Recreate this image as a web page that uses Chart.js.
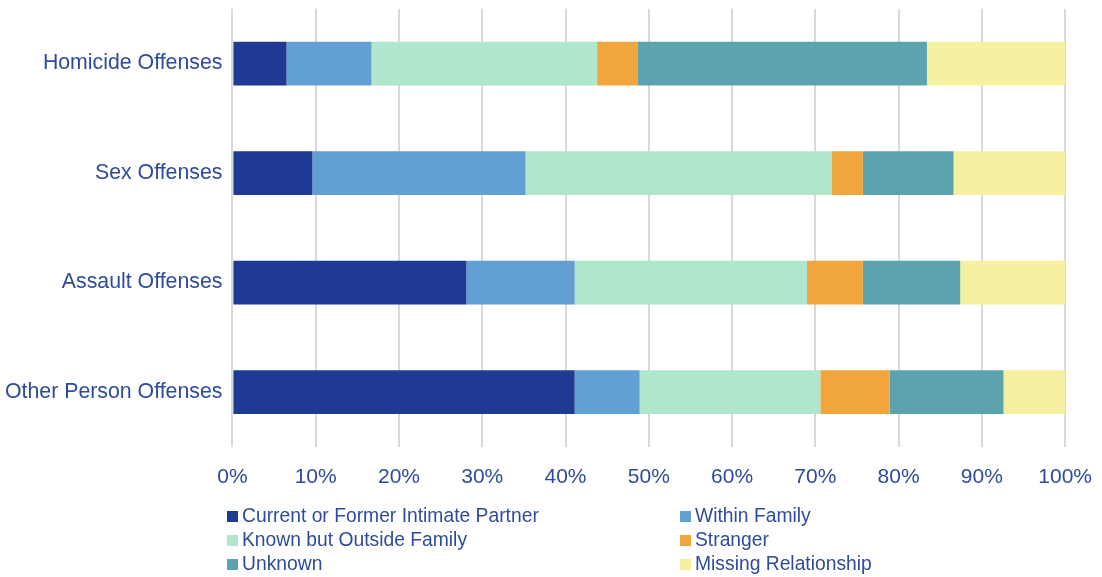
<!DOCTYPE html>
<html>
<head>
<meta charset="utf-8">
<script src="https://cdn.jsdelivr.net/npm/chart.js@4"></script>
<style>
  body { margin: 0; background: #fff; font-family: "Liberation Sans", Arial, sans-serif; overflow: hidden; }
  #wrap { position: relative; width: 1102px; height: 577px; overflow: hidden; }
  #chartBox { position: absolute; left: -5px; top: -14px; width: 1115px; height: 522px; }
  #legend { position: absolute; left: 0; top: 504px; width: 1102px; }
  .item { position: absolute; height: 24px; line-height: 24px; font-size: 19.3px; color: #2F4B9B; white-space: nowrap; }
  .item span.box { position: absolute; left: 0; top: 7px; width: 11px; height: 11px; }
  .item span.txt { position: absolute; left: 15px; top: 0; }
</style>
</head>
<body>
<div id="wrap">
  <div id="chartBox"><canvas id="chart"></canvas></div>
  <div id="legend"></div>
</div>
<script>
// categories and series (percent of each offense group)
const categories = ['Homicide Offenses', 'Sex Offenses', 'Assault Offenses', 'Other Person Offenses'];
const seriesNames = ['Current or Former Intimate Partner', 'Within Family', 'Known but Outside Family', 'Stranger', 'Unknown', 'Missing Relationship'];
const intimatePartner = [6.5, 9.6, 28.1, 41.1];
const withinFamily = [10.2, 25.6, 13.0, 7.8];
const knownOutside = [27.1, 36.8, 27.9, 21.7];
const stranger = [4.9, 3.7, 6.7, 8.3];
const unknown = [34.7, 10.9, 11.7, 13.7];
const missingRel = [16.6, 13.4, 12.6, 7.4];
const colors = ['#1E3A93', '#629FD2', '#B0E6CB', '#F0A63C', '#5BA3AE', '#F6F1A0'];
const tickValues = [0, 10, 20, 30, 40, 50, 60, 70, 80, 90, 100];

const allSeries = [intimatePartner, withinFamily, knownOutside, stranger, unknown, missingRel];
const textColor = '#2F4B9B';

const chart = new Chart(document.getElementById('chart'), {
    type: 'bar',
    data: {
        labels: categories,
        datasets: allSeries.map((vals, i) => ({
            label: seriesNames[i],
            data: vals,
            backgroundColor: colors[i],
            borderWidth: 0,
            categoryPercentage: 0.4,
            barPercentage: 1
        }))
    },
    options: {
        indexAxis: 'y',
        responsive: true,
        maintainAspectRatio: false,
        animation: false,
        layout: { padding: { top: 8, left: 0, right: 0, bottom: 0 } },
        plugins: {
            legend: { display: false },
            tooltip: { enabled: false }
        },
        scales: {
            x: {
                stacked: true,
                min: 0,
                max: 100,
                afterBuildTicks: (axis) => { axis.ticks = tickValues.map(v => ({ value: v })); },
                grid: { color: '#D9D9D9', lineWidth: 2, drawTicks: false },
                border: { display: false },
                ticks: {
                    color: textColor,
                    font: { family: '"Liberation Sans", Arial, sans-serif', size: 21 },
                    padding: 18,
                    callback: (v) => v + '%'
                }
            },
            y: {
                stacked: true,
                grid: { display: false, drawTicks: false },
                border: { display: false },
                ticks: {
                    color: textColor,
                    font: { family: '"Liberation Sans", Arial, sans-serif', size: 21.3 },
                    padding: 10
                }
            }
        }
    }
});

// html legend in two columns, built from the chart's datasets
const legend = document.getElementById('legend');
const colX = [227, 680];
chart.data.datasets.forEach((ds, i) => {
    const item = document.createElement('div');
    item.className = 'item';
    item.style.left = colX[i % 2] + 'px';
    item.style.top = (Math.floor(i / 2) * 24) + 'px';
    item.innerHTML = '<span class="box" style="background:' + ds.backgroundColor + '"></span><span class="txt"></span>';
    item.querySelector('.txt').textContent = ds.label;
    legend.appendChild(item);
});
</script>
</body>
</html>
